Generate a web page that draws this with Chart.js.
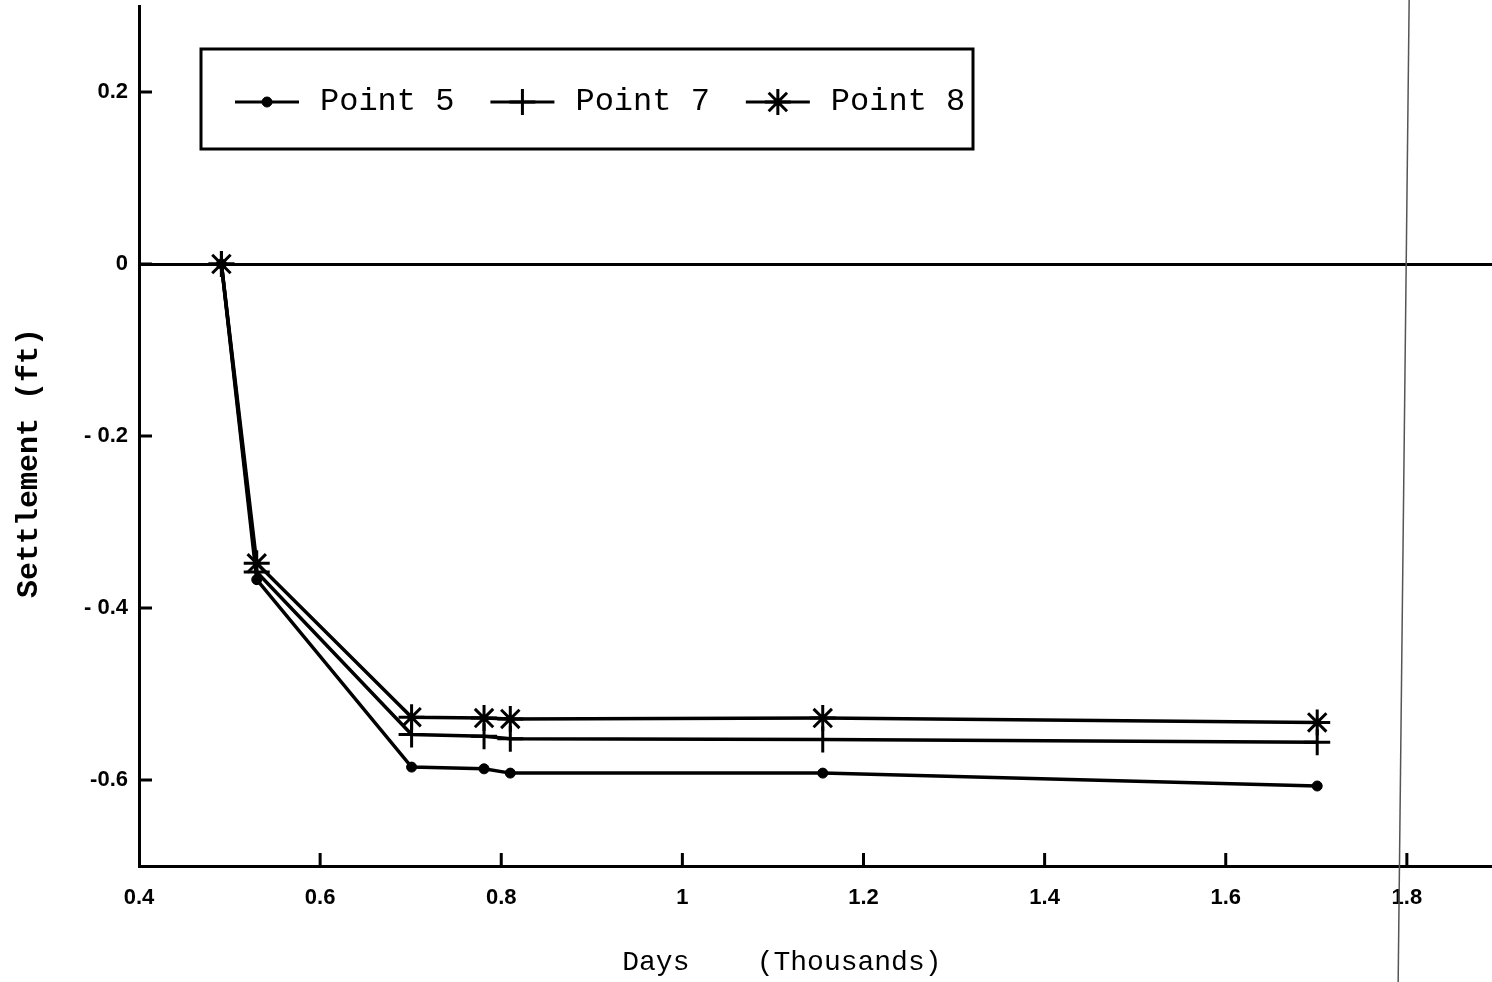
<!DOCTYPE html>
<html lang="en">
<head>
    <meta charset="UTF-8">
    <title>Settlement</title>
    <style>
        html, body { margin: 0; padding: 0; background: #fff; }
        #chart { display: block; }
    </style>
</head>
<body>
    <canvas id="chart" width="1492" height="982"></canvas>

    <script src="https://cdn.jsdelivr.net/npm/chart.js"></script>
    <script>
        // Days (thousands) of each survey
        const days = [0.491, 0.530, 0.701, 0.781, 0.810, 1.155, 1.701];

        // Settlement (ft) of each point
        const point5 = [0, -0.367, -0.585, -0.587, -0.592, -0.592, -0.607];
        const point7 = [0, -0.358, -0.547, -0.549, -0.552, -0.553, -0.556];
        const point8 = [0, -0.348, -0.527, -0.528, -0.529, -0.528, -0.533];

        const seriesNames = ['Point 5', 'Point 7', 'Point 8'];

        // Tick labels
        const xTicks = [0.4, 0.6, 0.8, 1.0, 1.2, 1.4, 1.6, 1.8];
        const xTickLabels = ['0.4', '0.6', '0.8', '1', '1.2', '1.4', '1.6', '1.8'];
        const yTicks = [0.2, 0, -0.2, -0.4, -0.6];
        const yTickLabels = ['0.2', '0', '- 0.2', '- 0.4', '-0.6'];

        const toPoints = (ys) => days.map((d, i) => ({ x: d, y: ys[i] }));

        const tickFont = { family: '"Liberation Sans", Arial, sans-serif', size: 22, weight: 'bold' };

        // ticks that point into the plot, like the original
        const innerTicks = {
            id: 'innerTicks',
            afterDraw(chart) {
                const ctx = chart.ctx, area = chart.chartArea;
                const xs = chart.scales.x, ys = chart.scales.y;
                ctx.save();
                ctx.strokeStyle = '#000';
                ctx.lineWidth = 3;
                ctx.beginPath();
                xTicks.forEach(v => {
                    if (v === xs.min) return;
                    const px = xs.getPixelForValue(v);
                    ctx.moveTo(px, area.bottom);
                    ctx.lineTo(px, area.bottom - 13);
                });
                yTicks.forEach(v => {
                    const py = ys.getPixelForValue(v);
                    ctx.moveTo(area.left, py);
                    ctx.lineTo(area.left + 13, py);
                });
                ctx.stroke();

                // thin scan line near 1.8
                const lx = xs.getPixelForValue(1.797);
                ctx.strokeStyle = '#555';
                ctx.lineWidth = 1.5;
                ctx.beginPath();
                ctx.moveTo(lx + 5, 0);
                ctx.lineTo(lx - 6, chart.height);
                ctx.stroke();
                ctx.restore();
            }
        };

        // boxed legend inside the plot
        const boxLegend = {
            id: 'boxLegend',
            afterDraw(chart) {
                const ctx = chart.ctx, area = chart.chartArea;
                const bx = area.left + 62, by = area.top + 43, bw = 772, bh = 100;
                ctx.save();
                ctx.fillStyle = '#fff';
                ctx.fillRect(bx, by, bw, bh);
                ctx.strokeStyle = '#000';
                ctx.lineWidth = 3;
                ctx.strokeRect(bx, by, bw, bh);

                ctx.font = '32px "Liberation Mono", "Courier New", monospace';
                ctx.textBaseline = 'middle';
                ctx.textAlign = 'left';
                const cy = by + 53;
                let x = bx + 34;
                chart.data.datasets.forEach(ds => {
                    const len = 64;
                    ctx.strokeStyle = '#000';
                    ctx.fillStyle = '#000';
                    ctx.lineWidth = 3;
                    ctx.beginPath();
                    ctx.moveTo(x, cy);
                    ctx.lineTo(x + len, cy);
                    ctx.stroke();
                    ctx.lineWidth = ds.pointBorderWidth;
                    Chart.helpers.drawPoint(ctx, {
                        pointStyle: ds.pointStyle,
                        radius: ds.pointRadius,
                        borderWidth: ds.pointBorderWidth,
                        rotation: 0
                    }, x + len / 2, cy);
                    ctx.fillStyle = '#000';
                    ctx.fillText(ds.label, x + len + 21, cy);
                    x += len + 21 + ctx.measureText(ds.label).width + 36;
                });
                ctx.restore();
            }
        };

        const styles = [
            { pointStyle: 'circle', pointRadius: 5, pointBorderWidth: 1 },
            { pointStyle: 'cross', pointRadius: 13, pointBorderWidth: 3 },
            { pointStyle: 'star', pointRadius: 13, pointBorderWidth: 3 }
        ];

        const datasets = [point5, point7, point8].map((ys, i) => Object.assign({
            label: seriesNames[i],
            data: toPoints(ys),
            borderColor: '#000',
            backgroundColor: '#000',
            borderWidth: 3.5,
            tension: 0,
            fill: false
        }, styles[i]));

        const noPad = (s) => { s.paddingLeft = 0; s.paddingRight = 0; s.paddingTop = 0; s.paddingBottom = 0; };

        const ctx = document.getElementById('chart').getContext('2d');
        new Chart(ctx, {
            type: 'line',
            data: { datasets: datasets },
            options: {
                responsive: false,
                animation: false,
                layout: { autoPadding: false, padding: { top: 6, right: 0, bottom: 0, left: 0 } },
                plugins: {
                    legend: { display: false },
                    tooltip: { enabled: false }
                },
                scales: {
                    x: {
                        type: 'linear',
                        min: 0.4,
                        max: 1.894,
                        afterBuildTicks: s => { s.ticks = xTicks.map(v => ({ value: v })); },
                        afterFit: s => { s.height = 116; noPad(s); },
                        ticks: {
                            color: '#000',
                            font: tickFont,
                            padding: 19,
                            maxRotation: 0,
                            autoSkip: false,
                            callback: (v) => xTickLabels[xTicks.indexOf(v)]
                        },
                        grid: { display: false, drawTicks: false },
                        border: { color: '#000', width: 3 },
                        title: {
                            display: true,
                            text: 'Days    (Thousands)    ',
                            color: '#000',
                            font: { family: '"Liberation Mono", "Courier New", monospace', size: 28 },
                            padding: { top: 0, bottom: 3 }
                        }
                    },
                    y: {
                        type: 'linear',
                        min: -0.7,
                        max: 0.3,
                        afterBuildTicks: s => { s.ticks = yTicks.map(v => ({ value: v })); },
                        afterFit: s => { s.width = 139; noPad(s); },
                        ticks: {
                            color: '#000',
                            font: tickFont,
                            padding: 11,
                            autoSkip: false,
                            callback: (v) => yTickLabels[yTicks.indexOf(v)]
                        },
                        grid: {
                            drawTicks: false,
                            lineWidth: 3,
                            color: (c) => (c.tick && c.tick.value === 0) ? '#000' : 'rgba(0,0,0,0)'
                        },
                        border: { color: '#000', width: 3 },
                        title: {
                            display: true,
                            text: 'Settlement (ft)   ',
                            color: '#000',
                            font: { family: '"Liberation Mono", "Courier New", monospace', size: 30, weight: 'bold' },
                            padding: { top: 11, bottom: 0 }
                        }
                    }
                }
            },
            plugins: [innerTicks, boxLegend]
        });
    </script>
</body>
</html>
